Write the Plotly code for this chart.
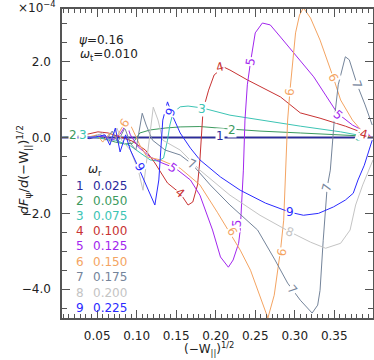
import plotly.graph_objects as go

# omega_r for each curve, psi = 0.16, omega_t = 0.010
omega_r = ["0.025", "0.050", "0.075", "0.100", "0.125", "0.150", "0.175", "0.200", "0.225"]
colors = ["#2a2a9c", "#3c9a5e", "#3cc4b4", "#c83232", "#a226ee",
          "#f4a462", "#74849a", "#c4c4c4", "#2a2aff"]

# dF/d(-W)^1/2 in units of 1e-4
x1 = [0.0055, 0.03, 0.04, 0.05, 0.06, 0.1, 0.2, 0.3, 0.399]
y1 = [0, 0, -0.03, 0.03, 0, 0, 0, 0, 0]

x2 = [0.0055, 0.028, 0.047, 0.06, 0.073, 0.085, 0.095, 0.104, 0.117, 0.136, 0.155,
      0.18, 0.221, 0.256, 0.307, 0.358, 0.386, 0.397]
y2 = [0, 0.04, 0.01, -0.04, -0.12, -0.17, -0.15, 0.12, 0.2, 0.25, 0.28,
      0.29, 0.22, 0.17, 0.12, 0.07, 0.04, 0]

x3 = [0.0055, 0.035, 0.054, 0.073, 0.092, 0.108, 0.117, 0.127, 0.134, 0.139, 0.142,
      0.146, 0.155, 0.165, 0.183, 0.218, 0.256, 0.307, 0.358, 0.386, 0.397]
y3 = [0, 0.04, -0.01, -0.07, -0.22, -0.46, -0.59, -0.62, -0.54, -0.07, 0.33,
      0.65, 0.81, 0.83, 0.78, 0.59, 0.46, 0.3, 0.15, 0.05, 0]

x4 = [0.0055, 0.028, 0.038, 0.051, 0.064, 0.079, 0.094, 0.111, 0.123, 0.139, 0.155,
      0.165, 0.171, 0.177, 0.18, 0.184, 0.191, 0.198, 0.21, 0.218, 0.24, 0.282,
      0.307, 0.332, 0.364, 0.387, 0.397]
y4 = [0, 0.01, 0.09, 0.15, 0.12, 0.01, -0.09, -0.33, -0.67, -1.2, -1.47,
      -1.78, -1.7, -1.25, -0.59, 0.73, 1.25, 1.65, 1.86, 1.78, 1.52, 1.07,
      0.65, 0.51, 0.3, 0.12, 0]

x5 = [0.0055, 0.041, 0.06, 0.07, 0.079, 0.087, 0.092, 0.102, 0.117, 0.132, 0.149,
      0.168, 0.18, 0.196, 0.206, 0.216, 0.222, 0.229, 0.231, 0.235, 0.237, 0.24,
      0.244, 0.25, 0.259, 0.269, 0.282, 0.303, 0.324, 0.339, 0.354, 0.373, 0.392, 0.397]
y5 = [0, 0.01, 0.04, -0.07, 0.09, 0.36, 0.07, -0.25, -0.51, -0.67, -0.81,
      -1.12, -1.52, -2.44, -3.15, -3.42, -3.23, -2.79, -2.44, -0.86, 0.46, 1.39,
      1.99, 2.76, 3.02, 2.97, 2.65, 2.13, 1.6, 1.12, 0.64, 0.33, 0.12, 0]

x6 = [0.0055, 0.038, 0.05, 0.057, 0.066, 0.074, 0.081, 0.088, 0.094, 0.104, 0.113,
      0.13, 0.155, 0.18, 0.202, 0.218, 0.231, 0.244, 0.256, 0.266, 0.274, 0.282,
      0.286, 0.288, 0.291, 0.294, 0.301, 0.306, 0.311, 0.32, 0.332, 0.349, 0.358,
      0.373, 0.387, 0.397]
y6 = [0, 0.01, 0.07, -0.12, 0.12, -0.01, 0.25, 0.46, 0.25, -0.2, -0.51,
      -0.59, -0.81, -1.25, -1.97, -2.52, -2.97, -3.5, -4.16, -4.76, -4.16, -2.97,
      -2.18, -1.12, 0.46, 1.25, 2.76, 3.23, 3.42, 3.15, 2.57, 1.57, 0.99,
      0.46, 0.12, 0]

x7 = [0.0055, 0.044, 0.054, 0.061, 0.069, 0.076, 0.085, 0.092, 0.099, 0.107, 0.112,
      0.12, 0.136, 0.155, 0.17, 0.193, 0.218, 0.253, 0.275, 0.291, 0.307, 0.322,
      0.329, 0.332, 0.336, 0.341, 0.345, 0.35, 0.355, 0.364, 0.369, 0.379, 0.389, 0.398]
y7 = [0, 0.01, 0.09, -0.07, 0.17, -0.12, 0.25, -0.15, -0.33, 0.64, 0.33,
      -0.07, -0.33, -0.46, -0.7, -1.25, -1.78, -2.44, -3.23, -3.84, -4.29, -4.63,
      -4.42, -4.03, -2.71, -1.31, -0.86, 0.46, 1.39, 2.13, 2.05, 1.39, 0.86, 0.33]

x8 = [0.0055, 0.047, 0.057, 0.066, 0.075, 0.081, 0.092, 0.102, 0.108, 0.114, 0.121,
      0.127, 0.133, 0.155, 0.18, 0.218, 0.256, 0.294, 0.32, 0.339, 0.358, 0.37,
      0.377, 0.386, 0.399]
y8 = [0, 0.01, 0.12, -0.12, 0.25, -0.07, -0.33, -0.86, -1.39, -0.33, 0.8,
      0.46, -0.07, -0.33, -0.86, -1.52, -2.05, -2.49, -2.76, -2.92, -2.79, -2.44,
      -1.78, -1.25, -0.59]

x9 = [0.0055, 0.047, 0.06, 0.066, 0.073, 0.079, 0.086, 0.092, 0.102, 0.115, 0.123,
      0.128, 0.133, 0.139, 0.145, 0.155, 0.168, 0.18, 0.206, 0.231, 0.263, 0.294,
      0.311, 0.33, 0.349, 0.364, 0.374, 0.38, 0.388, 0.398]
y9 = [0, 0.01, 0.07, -0.2, 0.25, -0.38, 0.07, -0.33, -0.78, -1.39, -1.78,
      -1.12, 0.46, 0.94, 0.59, 0.12, -0.28, -0.59, -1.04, -1.39, -1.73, -1.97,
      -2.05, -2.0, -1.83, -1.65, -1.47, -1.12, -0.73, -0.07]

curves = [(x1, y1), (x2, y2), (x3, y3), (x4, y4), (x5, y5),
          (x6, y6), (x7, y7), (x8, y8), (x9, y9)]

# number labels drawn along each curve: (x, y, angle)
curve_labels = {
    1: [(0.206, 0.04, 0)],
    2: [(0.0195, 0.07, 0), (0.221, 0.2, 0)],
    3: [(0.032, 0.07, 0), (0.183, 0.76, 5), (0.382, 0.02, 20)],
    4: [(0.155, -1.47, 40), (0.206, 1.86, -15), (0.387, 0.1, 15)],
    5: [(0.146, -0.8, 35), (0.227, -2.26, -85), (0.244, 1.99, -80), (0.355, 0.59, 40)],
    6: [(0.085, 0.38, -55), (0.221, -2.49, 60), (0.284, -3.02, -80),
        (0.294, 1.2, -85), (0.349, 1.57, 65)],
    7: [(0.17, -0.7, 25), (0.297, -4.03, 50), (0.341, -1.31, -75), (0.379, 1.39, 70)],
    8: [(0.294, -2.49, 20)],
    9: [(0.104, -0.78, 60), (0.143, 0.67, -70), (0.294, -1.97, 0)],
}

fig = go.Figure()
fig.add_hline(y=0, line=dict(color="#9a9ac6", width=3), layer="below")

for k, (xs, ys) in enumerate(curves):
    fig.add_trace(go.Scatter(x=xs, y=ys, mode="lines",
                             line=dict(color=colors[k], width=1),
                             hoverinfo="skip", showlegend=False))

for k, pts in curve_labels.items():
    for (lx, ly, ang) in pts:
        fig.add_annotation(x=lx, y=ly, text=str(k), showarrow=False, textangle=ang,
                           font=dict(size=12, color=colors[k - 1]),
                           bgcolor="white", borderpad=0)

# omega_r key
fig.add_annotation(x=0.047, y=-0.86, text="<i>ω</i><sub>r</sub>", showarrow=False,
                   font=dict(size=12, color="#222"))
row_y = [-1.28, -1.67, -2.07, -2.47, -2.86, -3.28, -3.69, -4.1, -4.5]
for k in range(9):
    fig.add_annotation(x=0.028, y=row_y[k], text=str(k + 1), showarrow=False,
                       font=dict(color=colors[k]))
    fig.add_annotation(x=0.042, y=row_y[k], text=omega_r[k], showarrow=False,
                       xanchor="left", font=dict(color=colors[k]))

fig.add_annotation(x=0.0245, y=2.57, text="<i>ψ</i>=0.16", showarrow=False,
                   xanchor="left", font=dict(size=12))
fig.add_annotation(x=0.026, y=2.18, text="<i>ω</i><sub>t</sub>=0.010", showarrow=False,
                   xanchor="left", font=dict(size=12))

fig.add_annotation(xref="paper", yref="paper", x=0, y=1, xanchor="right", yanchor="bottom",
                   xshift=-4, yshift=-8, text="×10<sup>−4</sup>", showarrow=False)
fig.add_annotation(xref="paper", yref="y", x=0, y=-0.86, xshift=-49, textangle=-90,
                   text="<i>dF</i><sub>ψ</sub>/<i>d</i>(−W<sub>||</sub>)<sup>1/2</sup>",
                   showarrow=False, font=dict(size=13))
fig.add_annotation(xref="x", yref="paper", x=0.191, y=0, yshift=-31, yanchor="middle",
                   text="(−W<sub>||</sub>)<sup>1/2</sup>", showarrow=False)

axis_common = dict(showgrid=False, zeroline=False, showline=True, linecolor="#555",
                   linewidth=1.5, mirror="allticks", ticks="inside", tickcolor="#555",
                   tickwidth=1, automargin=False)
fig.update_xaxes(range=[0.0055, 0.399], dtick=0.05, tick0=0, tickformat=".2f", ticklen=8,
                 ticklabelstandoff=6,
                 minor=dict(dtick=0.05 / 7, tick0=0, ticks="inside", ticklen=4,
                            tickcolor="#555"),
                 **axis_common)
fig.update_yaxes(range=[-4.76, 3.39], dtick=2, tick0=0, tickformat=".1f", ticklen=8,
                 ticklabelstandoff=7,
                 minor=dict(dtick=0.5, tick0=0, ticks="inside", ticklen=5,
                            tickcolor="#555"),
                 **axis_common)

fig.update_layout(width=374, height=360, margin=dict(l=62, r=1, t=9, b=42),
                  plot_bgcolor="white", paper_bgcolor="white",
                  font=dict(family="DejaVu Sans", size=12, color="#222"),
                  showlegend=False)

# the page body has a default 8px margin; drop it so the figure sits at the window corner
fig.write_html("out.html", config={"displayModeBar": False},
               post_script="document.body.style.margin='0px';")
